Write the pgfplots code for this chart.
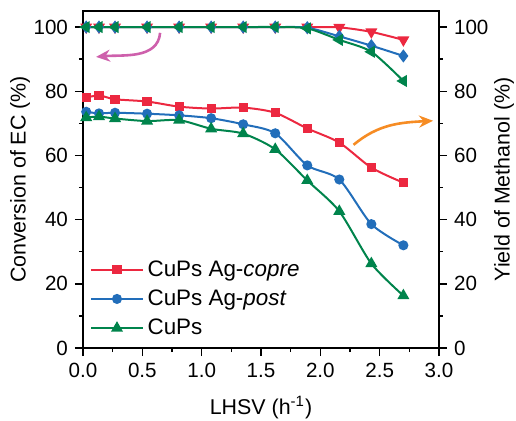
\documentclass[border=0pt]{standalone}
\usepackage{fontspec}
\setmainfont{Liberation Sans}
\usepackage{pgfplots}
\pgfplotsset{compat=1.18}
\usetikzlibrary{arrows.meta}
\definecolor{cred}{RGB}{236,40,64}
\definecolor{cblue}{RGB}{34,110,186}
\definecolor{cgreen}{RGB}{0,132,76}
\definecolor{cpink}{RGB}{206,96,172}
\definecolor{corange}{RGB}{246,140,36}
\newcommand{\lblfont}{\fontsize{10.3}{12}\selectfont}
\newcommand{\axlblfont}{\fontsize{10.7}{12}\selectfont}
\newcommand{\legfont}{\fontsize{11.2}{13}\selectfont}
\pgfplotsset{
  common/.style={
    width=178pt, height=168.5pt, scale only axis,
    xmin=0, xmax=3, ymin=0, ymax=105,
    xtick={0,0.5,...,3}, ytick={0,20,...,100},
    minor x tick num=1, minor y tick num=1,
    tick align=outside, major tick length=4pt, minor tick length=2pt,
    /pgf/number format/assume math mode=true,
    tick label style={font=\lblfont},
    label style={font=\axlblfont},
    axis line style={line width=0.8pt}, tick style={line width=0.7pt, black},
    every axis plot/.append style={line width=1pt, smooth, tension=0.45},
  }
}
\begin{document}
\begin{tikzpicture}
\begin{axis}[common,
  xtick pos=bottom, ytick pos=left,
  xticklabel style={/pgf/number format/.cd, fixed, fixed zerofill, precision=1},
  xlabel={LHSV (h\textsuperscript{-1})},
  ylabel={Conversion of EC (\%)},
  xlabel style={at={(axis description cs:0.5,-0.178)}, anchor=center},
  ylabel style={at={(axis description cs:-0.177,0.5)}, anchor=center, rotate=0},
  clip=false,
  legend cell align=left,
  legend style={at={(rel axis cs:0.014,0.279)}, anchor=north west, draw=none, fill=none,
    font=\legfont, row sep=1.3pt, inner sep=1pt},
  legend image code/.code={\draw[mark repeat=2,mark phase=2] plot coordinates {(0cm,0cm)(0.45cm,0cm)(0.9cm,0cm)};},
]
\addplot[cred, mark=square*, mark size=1.8pt, mark options={solid}] coordinates {
(0.027,78.0)(0.135,78.7)(0.27,77.5)(0.54,76.8)(0.81,75.2)(1.08,74.6)(1.35,74.9)(1.62,73.3)(1.89,68.4)(2.16,64.0)(2.43,56.2)(2.70,51.5)};
\addlegendentry{CuPs Ag-\textit{copre}}
\addplot[cblue, mark=*, mark size=2pt] coordinates {
(0.027,73.6)(0.135,73.1)(0.27,73.3)(0.54,73.0)(0.81,72.5)(1.08,71.6)(1.35,69.7)(1.62,66.9)(1.89,56.9)(2.16,52.5)(2.43,38.6)(2.70,32.0)};
\addlegendentry{CuPs Ag-\textit{post}}
\addplot[cgreen, mark=triangle*, mark size=2.5pt] coordinates {
(0.027,71.8)(0.135,72.1)(0.27,71.5)(0.54,70.7)(0.81,71.0)(1.08,68.3)(1.35,66.8)(1.62,61.9)(1.89,52.2)(2.16,42.6)(2.43,26.3)(2.70,16.3)};
\addlegendentry{CuPs}
\draw[cpink, line width=1.3pt, -{Stealth[length=7pt,width=6pt]}] (axis cs:0.65,98.2) to[out=-95,in=5] (axis cs:0.11,90.7);
\draw[corange, line width=1.3pt, -{Stealth[length=7pt,width=6pt]}] (axis cs:2.28,63.3) to[out=40,in=183] (axis cs:2.95,70.8);
\end{axis}
\begin{axis}[common,
  axis x line=none, axis y line*=right,
  ylabel={Yield of Methanol (\%)},
  ylabel style={at={(axis description cs:1.183,0.5)}, anchor=center, rotate=0},
]
\addplot[cred, mark=triangle*, mark size=2.5pt, mark options={rotate=180}] coordinates {
(0.027,100)(0.135,100)(0.27,100)(0.54,100)(0.81,100)(1.08,100)(1.35,100)(1.62,100)(1.89,100)(2.16,99.9)(2.43,98.5)(2.70,96.0)};
\addplot[cblue, mark=diamond*, mark size=2.5pt] coordinates {
(0.027,100)(0.135,100)(0.27,100)(0.54,100)(0.81,100)(1.08,100)(1.35,100)(1.62,100)(1.89,99.8)(2.16,97.1)(2.43,94.2)(2.70,91.0)};
\addplot[cgreen, mark=triangle*, mark size=2.5pt, mark options={rotate=90}] coordinates {
(0.027,100)(0.135,100)(0.27,100)(0.54,100)(0.81,100)(1.08,100)(1.35,100)(1.62,100)(1.89,99.6)(2.16,96.0)(2.43,92.3)(2.70,83.2)};
\end{axis}
\pgfresetboundingbox
\useasboundingbox (-41.5pt,-36pt) rectangle (216.5pt,174pt);
\end{tikzpicture}
\end{document}
